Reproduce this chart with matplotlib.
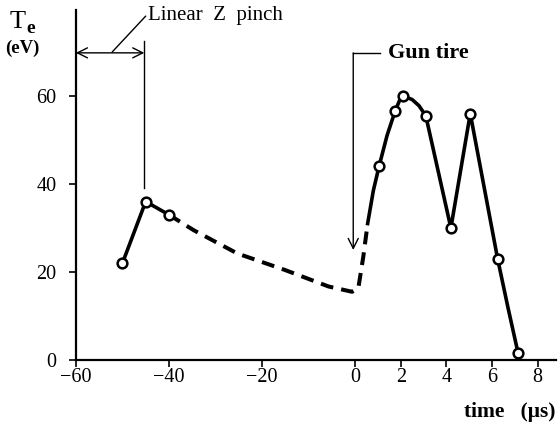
import numpy as np
import matplotlib
matplotlib.use("Agg")
import matplotlib.pyplot as plt

# data
pinch_t = [-50, -45, -40]
pinch_te = [22, 36, 33]

gun_t = [1.05, 1.75, 2.1, 3.1, 4.2, 5.05, 6.25, 7.15]
gun_te = [44, 56.5, 60, 55.5, 30, 56, 23, 1.5]

# hand-traced line between the measured points
decay_t = [-40, -34.7, -25.3, -15.2, -5.7, -0.65, 0.14, 0.36, 0.55]
decay_te = [33, 29.5, 24.2, 20.5, 16.7, 15.5, 16.3, 23.5, 31]
rise_t = [0.55, 0.8, 1.05, 1.4, 1.75, 1.95, 2.1, 2.5, 2.8, 3.1, 4.2, 5.05, 6.25, 6.7, 7.15]
rise_te = [31, 38.5, 44, 51, 56.5, 59, 60, 59.2, 57.8, 55.5, 30, 56, 23, 12, 1.5]

xticks = [-60, -40, -20, 0, 2, 4, 6, 8]
xticklabels = ["\u221260", "\u221240", "\u221220", "0", "2", "4", "6", "8"]
yticks = [0, 20, 40, 60]

plt.rcParams['font.family'] = ['Liberation Serif', 'DejaVu Serif']

# time axis is stretched after t = 0
k = 4.9
def fwd(x):
    x = np.asarray(x, dtype=float)
    return np.where(x < 0, x, x * k)

def inv(x):
    x = np.asarray(x, dtype=float)
    return np.where(x < 0, x, x / k)

fig = plt.figure(figsize=(5.58, 4.24), dpi=100)
ax = fig.add_axes([0.136, 0.151, 0.860, 0.825])
ax.set_xscale('function', functions=(fwd, inv))

lw = 2.6
ax.plot(pinch_t, pinch_te, color='black', lw=lw, solid_capstyle='round')
ax.plot(decay_t, decay_te, color='black', lw=lw + 0.3, dashes=(3.2, 2.0))
ax.plot(rise_t, rise_te, color='black', lw=lw, solid_joinstyle='round')
mk = dict(ls='none', marker='o', ms=7, mfc='white', mec='black', mew=1.8, zorder=5)
ax.plot(pinch_t, pinch_te, **mk)
ax.plot(gun_t, gun_te, **mk)

# Linear Z pinch annotation
ax.annotate('', xy=(-60, 69.8), xytext=(-45.3, 69.8),
            arrowprops=dict(arrowstyle='<->', color='black', lw=1.0,
                            mutation_scale=18, shrinkA=0, shrinkB=0))
ax.plot([-45.3, -45.3], [72.5, 39], color='black', lw=1.0)
ax.annotate('Linear  Z  pinch', xy=(-52.2, 70), xytext=(-44.4, 78.4),
            fontsize=15, va='center', ha='left',
            arrowprops=dict(arrowstyle='-', color='black', lw=1.0,
                            relpos=(0, 0.6), shrinkA=0, shrinkB=0),
            annotation_clip=False)

# Gun fire annotation
ax.plot([-0.4, 1.1], [69.8, 69.8], color='black', lw=1.0)
ax.annotate('', xy=(-0.4, 25), xytext=(-0.4, 69.8),
            arrowprops=dict(arrowstyle='->', color='black', lw=1.0,
                            mutation_scale=18, shrinkA=0, shrinkB=0))
ax.text(1.45, 69.8, 'Gun tire', fontsize=16, fontweight='bold', va='center', ha='left')

ax.set_xlim(-60, 8.8)
ax.set_ylim(0, 79.5)
ax.set_xticks(xticks)
ax.set_xticklabels(xticklabels)
ax.set_yticks(yticks)
ax.tick_params(axis='both', direction='out', length=5, width=1.2, labelsize=14.5)
ax.tick_params(axis='x', pad=1)
ax.tick_params(axis='y', pad=9)
for s in ['top', 'right']:
    ax.spines[s].set_visible(False)
for s in ['left', 'bottom']:
    ax.spines[s].set_linewidth(1.6)

fig.text(0.018, 0.948, 'T', fontsize=19, va='center', ha='left')
fig.text(0.048, 0.933, 'e', fontsize=14, fontweight='bold', va='center', ha='left')
fig.text(0.010, 0.886, '(eV)', fontsize=13.5, fontweight='bold', va='center', ha='left')
fig.text(0.996, 0.028, 'time   (\u03bcs)', fontsize=15.5, fontweight='bold', va='center', ha='right')

fig.savefig('out.png', dpi=100)
